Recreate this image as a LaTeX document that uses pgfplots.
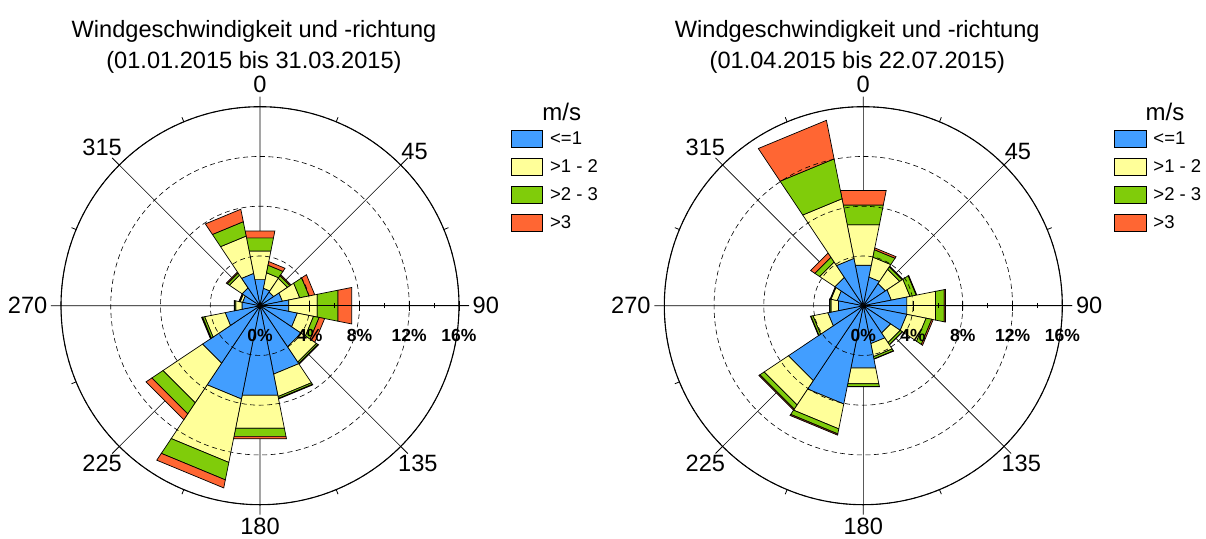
\documentclass[border=0pt]{standalone}
\usepackage{pgfplots}
\pgfplotsset{compat=1.18}
\usepackage{pgfplotstable}
\usepgfplotslibrary{polar}
\usepackage{fontspec}
\setmainfont{Liberation Sans}

\definecolor{cB}{RGB}{66,158,255}
\definecolor{cY}{RGB}{255,255,153}
\definecolor{cG}{RGB}{128,204,10}
\definecolor{cO}{RGB}{255,102,51}

% frequency (%) per direction (compass degrees) and speed class
% b: <=1, y: >1-2, g: >2-3, o: >3 m/s
\pgfplotstableread{
dir   b    y    g    o
0     2.14 2.35 1.07 0.56
22.5  1.43 1.27 0.62 0.30
45    1.33 1.32 0.26 0.10
67.5  1.84 1.42 0.77 0.46
90    2.35 2.34 1.71 1.12
112.5 3.06 1.33 0.46 0.45
135   3.98 1.48 0.15 0.05
157.5 5.61 1.84 0.15 0.05
180   7.34 2.71 0.66 0.20
202.5 7.65 5.20 1.43 0.66
225   5.56 3.82 1.08 0.56
247.5 2.86 1.68 0.17 0.08
270   1.48 0.51 0.10 0.03
292.5 1.43 0.20 0.05 0.05
315   1.73 1.23 0.20 0.10
337.5 2.65 3.06 1.18 1.02
}\roseA

\pgfplotstableread{
dir   b    y    g    o
0     3.32 3.31 1.63 1.18
22.5  2.35 1.63 0.61 0.15
45    2.14 1.38 0.25 0.06
67.5  2.30 1.53 0.51 0.05
90    3.57 2.35 0.71 0.10
112.5 3.57 1.58 0.46 0.12
135   2.65 0.92 0.20 0.02
157.5 3.11 1.07 0.18 0.03
180   5.10 1.30 0.23 0.02
202.5 8.06 2.04 0.41 0.10
225   7.24 2.35 0.41 0.10
247.5 2.91 1.22 0.17 0.04
270   2.04 0.61 0.10 0.02
292.5 2.14 0.51 0.05 0.02
315   2.75 1.48 0.46 0.41
337.5 3.88 4.89 3.27 3.16
}\roseB

\newcommand\titlefont{\fontsize{23.6}{31}\selectfont}
\newcommand\radfont{\fontsize{17.5}{17.5}\selectfont\bfseries}

\pgfplotsset{
  rosebase/.style={
    scale only axis, width=398pt, height=398pt, anchor=center,
    xmin=0, xmax=360, ymin=0, ymax=16, clip=false,
  },
  wedge/.style={draw=black, line width=0.7pt, forget plot, line join=miter, no markers},
  legbox/.style={legend image code/.code={%
      \path[fill=none, draw=none] (0pt,-14pt) rectangle (37pt,14pt);
      \draw[#1, draw=black, line width=0.8pt] (0pt,-8.35pt) rectangle (31.6pt,8.35pt);}},
}

\newcommand\drawrose[1]{%
  \pgfplotsforeachungrouped \i in {0,...,15}{%
    \pgfplotstablegetelem{\i}{dir}\of{#1}\pgfmathsetmacro\pa{90-\pgfplotsretval-11.25}%
    \pgfmathsetmacro\pb{\pa+22.5}%
    \pgfplotstablegetelem{\i}{b}\of{#1}\pgfmathsetmacro\rA{\pgfplotsretval}%
    \pgfplotstablegetelem{\i}{y}\of{#1}\pgfmathsetmacro\rB{\rA+\pgfplotsretval}%
    \pgfplotstablegetelem{\i}{g}\of{#1}\pgfmathsetmacro\rC{\rB+\pgfplotsretval}%
    \pgfplotstablegetelem{\i}{o}\of{#1}\pgfmathsetmacro\rD{\rC+\pgfplotsretval}%
    \edef\tmp{%
      \noexpand\addplot[wedge,fill=cB] coordinates {(\pa,0) (\pa,\rA) (\pb,\rA) (\pb,0)} -- cycle;%
      \noexpand\addplot[wedge,fill=cY] coordinates {(\pa,\rA) (\pa,\rB) (\pb,\rB) (\pb,\rA)} -- cycle;%
      \noexpand\addplot[wedge,fill=cG] coordinates {(\pa,\rB) (\pa,\rC) (\pb,\rC) (\pb,\rB)} -- cycle;%
      \noexpand\addplot[wedge,fill=cO] coordinates {(\pa,\rC) (\pa,\rD) (\pb,\rD) (\pb,\rC)} -- cycle;%
    }\tmp
  }%
}

\newcommand\rose[3]{%
  % under layer: radial lines and bars
  \begin{polaraxis}[rosebase, at={(#1pt,-305.7pt)},
    xtick={0,45,...,315}, xticklabels={},
    ytick=\empty, ymajorgrids=false,
    xmajorgrids, major grid style={solid, black, line width=0.6pt},
    axis line style={draw=none}, major tick length=0pt, minor tick length=0pt,
  ]
    \drawrose{#2}
  \end{polaraxis}
  % over layer: dashed circles, outer circle, radial axis, labels, legend
  \begin{polaraxis}[rosebase, at={(#1pt,-305.7pt)},
    xtick={0,45,...,315}, xticklabels={90,45,0,315,270,225,180,135},
    minor x tick num=1,
    xticklabel style={font=\titlefont, inner sep=0.5pt,
      shift={(\tick:{13pt-9.5pt*abs(sin(2*\tick))})}},
    ytick={4,8,12,16}, minor y tick num=1, yticklabels={},
    ytick align=center,
    xmajorgrids=false, xminorgrids=false, ymajorgrids=true,
    major grid style={black, line width=0.6pt, dash pattern=on 5pt off 3.5pt},
    axis line style={black, line width=1.1pt},
    tick style={black, line width=0.8pt},
    major tick length=10pt, minor tick length=5pt,
    extra x ticks={0}, extra x tick labels={},
    extra x tick style={xmajorgrids=true, ymajorgrids=false, major grid style={solid, black, line width=1.4pt}},
    legbox,
    legend style={at={(axis description cs:1.13,0.955)}, anchor=north west,
      draw=none, fill=none, inner sep=0pt, outer sep=0pt,
      font=\fontsize{18.5}{20}\selectfont, row sep=0pt},
    legend cell align=left,
  ]
    \addlegendimage{fill=cB}\addlegendentry{<=1}
    \addlegendimage{fill=cY}\addlegendentry{>1 - 2}
    \addlegendimage{fill=cG}\addlegendentry{>2 - 3}
    \addlegendimage{fill=cO}\addlegendentry{>3}
    \node[font=\radfont, yshift=-30pt] at (axis cs:0,0) {0\%};
    \node[font=\radfont, yshift=-30pt] at (axis cs:0,4) {4\%};
    \node[font=\radfont, yshift=-30pt] at (axis cs:0,8) {8\%};
    \node[font=\radfont, yshift=-30pt] at (axis cs:0,12) {12\%};
    \node[font=\radfont, yshift=-30pt] at (axis cs:0,16) {16\%};
  \end{polaraxis}
  \node[font=\titlefont, anchor=base] at (#1pt-6pt,-37.3pt) {Windgeschwindigkeit und -richtung};
  \node[font=\titlefont, anchor=base] at (#1pt-6pt,-68.3pt) {#3};
  \node[font=\fontsize{24}{24}\selectfont] at (#1pt+301.7pt,-111.7pt) {m/s};
}

\begin{document}
\begin{tikzpicture}
\useasboundingbox (0pt,0pt) rectangle (1206pt,-538pt);
\rose{260}{\roseA}{(01.01.2015 bis 31.03.2015)}
\rose{863.3}{\roseB}{(01.04.2015 bis 22.07.2015)}
\end{tikzpicture}
\end{document}
